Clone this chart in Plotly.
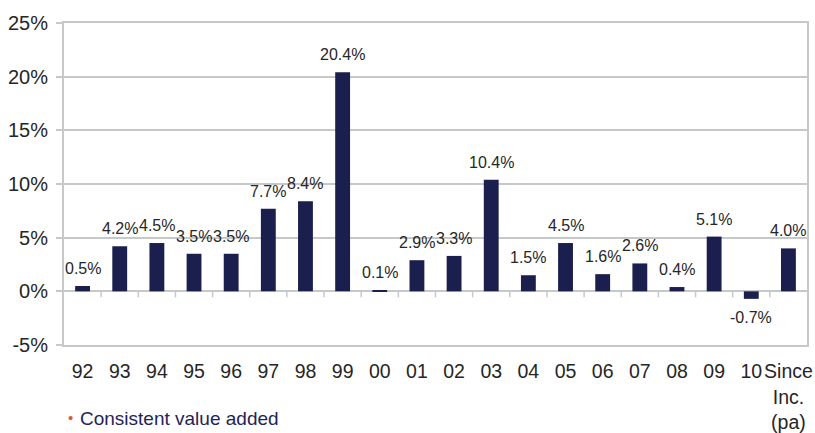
import plotly.graph_objects as go

# Yearly value added, plus the annualised figure since inception
categories = ["92", "93", "94", "95", "96", "97", "98", "99", "00", "01",
              "02", "03", "04", "05", "06", "07", "08", "09", "10",
              "Since<br>Inc.<br>(pa)"]
values = [0.5, 4.2, 4.5, 3.5, 3.5, 7.7, 8.4, 20.4, 0.1, 2.9,
          3.3, 10.4, 1.5, 4.5, 1.6, 2.6, 0.4, 5.1, -0.7, 4.0]
y_ticks = [-5, 0, 5, 10, 15, 20, 25]
y_tick_labels = [f"{v}%" for v in y_ticks]

BAR = "#1b1f4e"
GRID = "#c6c9cc"
TEXT = "#262626"
FONT = "Liberation Sans, Arial, sans-serif"

n = len(categories)
fig = go.Figure()
fig.add_trace(go.Bar(
    x=categories, y=values, marker=dict(color=BAR, line=dict(width=0)),
    hoverinfo="skip",
))

# Value labels above (or below, for negatives) each bar, placed by category index
annotations = []
for i, v in enumerate(values):
    annotations.append(dict(
        x=i, y=v, xref="x", yref="y", text=f"{v:.1f}%", showarrow=False,
        yanchor="bottom" if v >= 0 else "top",
        yshift=7 if v >= 0 else -8,
        font=dict(family=FONT, size=16, color=TEXT),
    ))

# Footnote bullet and caption
annotations.append(dict(
    x=0, y=0, xref="paper", yref="paper", text="•", showarrow=False,
    xanchor="left", yanchor="bottom", xshift=2, yshift=-83,
    font=dict(family=FONT, size=15, color="#e4572e"),
))
annotations.append(dict(
    x=0, y=0, xref="paper", yref="paper", text="Consistent value added",
    showarrow=False, xanchor="left", yanchor="bottom", xshift=14, yshift=-86,
    font=dict(family=FONT, size=19, color="#1f2456"),
))

# Short tick marks hanging from the zero line between categories
shapes = []
for i in range(n - 1):
    shapes.append(dict(
        type="line", xref="x", yref="y", x0=i + 0.5, x1=i + 0.5,
        ysizemode="pixel", yanchor=0, y0=0, y1=-6,
        line=dict(color=GRID, width=1.5),
    ))

fig.update_layout(
    width=815, height=433,
    margin=dict(l=64, r=8, t=23, b=88, autoexpand=False),
    paper_bgcolor="white", plot_bgcolor="white",
    bargap=0.6, showlegend=False,
    annotations=annotations, shapes=shapes,
    font=dict(family=FONT, color=TEXT),
)
fig.update_xaxes(
    type="category", categoryorder="array", categoryarray=categories,
    range=[-0.5, n - 0.5], autorange=False, automargin=False,
    tickmode="array", tickvals=categories, ticktext=categories,
    tickangle=0, showgrid=False, ticks="", ticklabelstandoff=8,
    tickfont=dict(family=FONT, size=19.5, color=TEXT),
    showline=True, linecolor=GRID, linewidth=1.5, mirror=True,
)
fig.update_yaxes(
    range=[-5, 25], autorange=False, automargin=False,
    tickvals=y_ticks, ticktext=y_tick_labels,
    showgrid=True, gridcolor=GRID, gridwidth=1.5, zeroline=False,
    ticks="outside", ticklen=6, tickcolor=GRID, tickwidth=1.5,
    ticklabelstandoff=4,
    tickfont=dict(family=FONT, size=20, color=TEXT),
    showline=True, linecolor=GRID, linewidth=2, mirror=True,
)

fig.write_html("out.html")
